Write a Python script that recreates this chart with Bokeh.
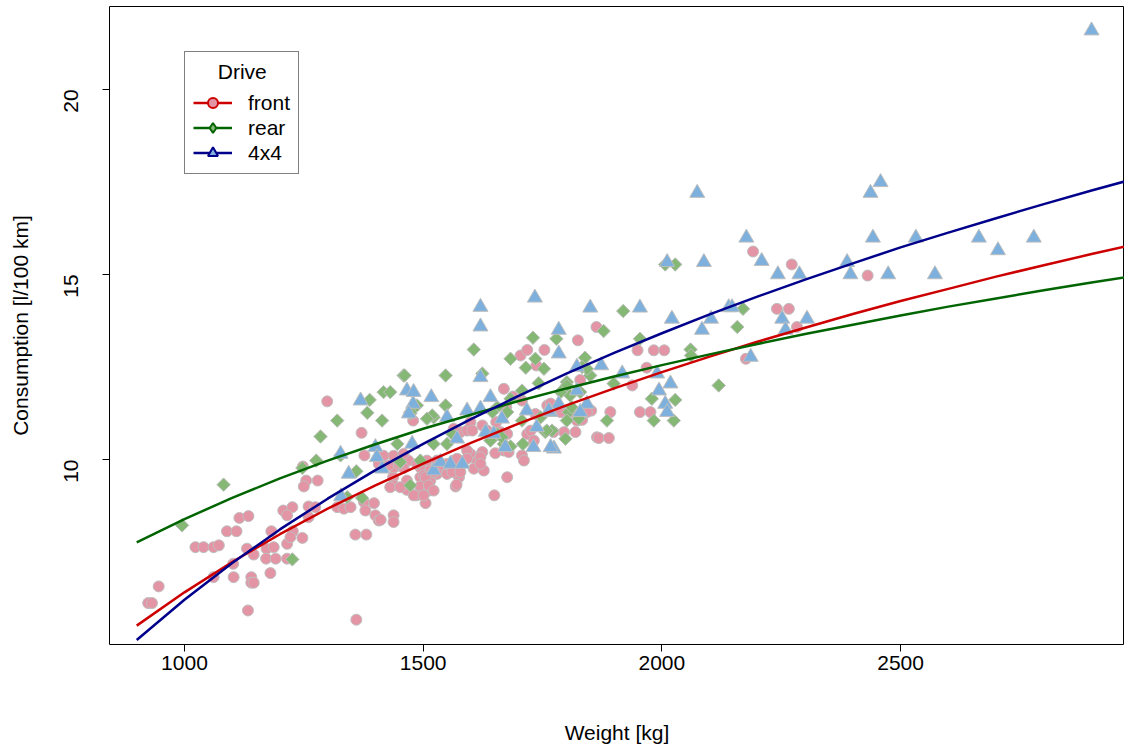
import math
import numpy as np
from bokeh.plotting import figure
from bokeh.models import Range1d, FixedTicker, Legend, LegendItem, Label
from bokeh.embed import file_html
from bokeh.resources import INLINE

# ---------------- data ----------------
front_weight = [924, 932, 946, 1133, 1360, 1023, 1040, 1061, 1072, 1061, 1103, 1102, 1140, 1140, 1145,
                1180, 1089, 1109, 1182, 1227, 1115, 1134, 1131, 1145, 1172, 1187, 1171, 1191, 1215, 1215,
                1222, 1247, 1207, 1226, 1215, 1260, 1260, 1274, 1248, 1255, 1279, 1250, 1299, 1371, 1377,
                1320, 1334, 1348, 1358, 1381, 1376, 1397, 1379, 1400, 1407, 1411, 1438, 1438, 1417, 1438,
                1456, 1421, 1442, 1469, 1494, 1515, 1437, 1466, 1494, 1515, 1469, 1494, 1515, 1486, 1505,
                1479, 1438, 1459, 1487, 1438, 1466, 1459, 1407, 1428, 1449, 1508, 1529, 1532, 1564, 1585,
                1599, 1620, 1613, 1606, 1627, 1501, 1529, 1550, 1575, 1431, 1452, 1512, 1568, 1480, 1501,
                1578, 1592, 1704, 1718, 1754, 1737, 1824, 1669, 1688, 1674, 1707, 1760, 1735, 1765, 1788,
                1822, 1833, 1852, 1795, 1819, 1864, 1773, 1599, 1624, 1634, 1653, 1603, 1564, 1662, 1676,
                1718, 1725, 1732, 1707, 1711, 1669, 1679, 1651, 1624, 1620, 1592, 1592, 1571, 1620, 1550,
                1561, 1578, 1522, 1505, 1512, 1522, 1676, 1570, 1649, 1863, 1949, 1983, 2005, 1829, 1968,
                1938, 1892, 1954, 1976, 1843, 1808, 1868, 1889, 1767, 2191, 2272, 2431, 2241, 2266, 2283,
                2176]
front_cons = [6.12, 6.12, 6.57, 5.92, 5.67, 7.63, 7.63, 7.63, 7.68, 6.82, 6.82, 7.18, 6.82, 6.67, 6.67,
              6.93, 8.06, 8.06, 8.06, 8.06, 8.42, 8.47, 7.59, 7.43, 7.59, 7.63, 7.32, 7.32, 7.32, 7.72,
              7.90, 7.88, 8.62, 8.71, 8.49, 8.73, 8.44, 8.71, 9.81, 9.43, 9.43, 9.27, 11.57, 10.72, 10.11,
              8.71, 8.67, 8.71, 7.97, 7.97, 8.85, 8.82, 8.62, 8.49, 8.35, 8.37, 8.49, 8.31, 10.10, 10.10,
              10.06, 9.81, 9.81, 9.97, 9.79, 9.72, 9.52, 9.43, 9.52, 9.43, 9.21, 9.27, 9.21, 9.03, 8.82,
              11.05, 9.79, 9.77, 9.88, 9.30, 9.18, 10.15, 9.88, 9.84, 9.88, 9.97, 9.97, 9.79, 9.97, 9.97,
              10.15, 10.11, 9.93, 9.75, 9.70, 9.57, 9.61, 9.61, 9.52, 9.25, 9.25, 9.16, 9.27, 9.03, 9.03,
              10.74, 10.78, 12.81, 12.96, 12.96, 12.54, 13.22, 11.91, 11.70, 11.41, 11.59, 11.46, 11.23, 11.34, 11.28,
              11.05, 11.07, 11.32, 10.74, 10.74, 10.60, 10.74, 11.01, 10.92, 10.78, 11.01, 10.78, 10.83, 10.74, 10.69,
              10.69, 10.78, 10.51, 10.11, 9.97, 10.24, 10.20, 10.17, 10.20, 10.06, 10.24, 10.02, 10.02, 9.88, 9.88,
              9.66, 9.66, 9.66, 9.52, 9.30, 9.16, 9.52, 9.32, 9.03, 13.58, 12.95, 12.95, 12.95, 12.15, 12.48,
              12.00, 11.28, 11.28, 11.28, 11.28, 11.28, 10.58, 10.58, 11.51, 15.62, 15.27, 14.97, 14.07, 14.07, 13.58,
              12.72]

rear_weight = [995, 1082, 1226, 1247, 1276, 1285, 1320, 1327, 1341, 1360, 1372, 1388, 1383, 1414, 1417,
               1431, 1446, 1459, 1473, 1487, 1522, 1547, 1494, 1522, 1473, 1452, 1606, 1624, 1547, 1461,
               1473, 1519, 1508, 1683, 1715, 1735, 1753, 1730, 1779, 1839, 1850, 1833, 1655, 1676, 1707,
               1742, 1801, 1808, 1756, 1798, 1709, 1669, 1550, 1561, 2028, 2007, 1919, 1878, 1954, 2170,
               2158, 2060, 2061, 2119, 1843, 1801, 1788, 1829, 1899, 1979, 2028, 1983, 2025, 1885, 1805,
               1801, 1683, 1645, 1746, 1707, 1770, 1655, 1683, 1641, 1826, 1665, 1811, 1759]
rear_cons = [8.22, 9.32, 7.30, 9.77, 9.97, 10.62, 11.05, 10.11, 8.98, 9.68, 8.96, 11.61, 11.26, 11.05, 11.82,
             11.82, 10.42, 12.27, 11.24, 11.46, 11.14, 11.46, 9.97, 10.42, 9.30, 9.93, 12.97, 12.32, 12.27, 12.27,
             11.28, 11.19, 11.10, 12.72, 12.48, 12.72, 12.45, 13.29, 13.26, 12.75, 12.27, 12.50, 11.41, 11.28, 11.86,
             12.06, 12.09, 11.73, 10.74, 10.56, 10.42, 10.42, 10.42, 10.69, 15.27, 15.27, 14.01, 13.47, 13.26, 14.07,
             13.58, 12.97, 12.81, 12.00, 12.45, 12.00, 11.82, 11.82, 12.05, 11.64, 11.61, 11.05, 11.05, 11.05, 11.28,
             11.05, 11.64, 11.28, 11.14, 11.05, 10.78, 10.69, 10.35, 10.51, 11.10, 10.60, 11.41, 10.78]

awd_weight = [2900, 2458, 2437, 2074, 2177, 2088, 2011, 2209, 2243, 2288, 2388, 2395, 2474, 2572, 2442,
              2532, 2664, 2779, 2704, 2140, 2147, 2021, 2103, 2084, 2252, 2304, 2259, 2186, 1990, 2018,
              1850, 1954, 1784, 1784, 1873, 1917, 1994, 2007, 2011, 1822, 1843, 1829, 1784, 1767, 1774,
              1620, 1620, 1734, 1620, 1369, 1466, 1479, 1517, 1550, 1592, 1620, 1641, 1665, 1717, 1738,
              1763, 1327, 1344, 1400, 1403, 1414, 1477, 1522, 1536, 1557, 1582, 1571, 1631, 1731, 1672,
              1648, 1767, 1328, 1480, 1470, 1822]
awd_cons = [21.59, 17.49, 17.20, 17.20, 15.99, 15.33, 15.33, 15.36, 15.00, 15.00, 15.33, 15.00, 15.00, 15.00, 15.99,
            15.99, 15.99, 15.99, 15.65, 14.11, 14.11, 13.80, 13.80, 13.50, 13.80, 13.80, 13.50, 12.77, 12.32, 12.05,
            14.10, 14.10, 13.50, 12.86, 12.54, 12.32, 11.86, 11.50, 11.28, 11.86, 11.50, 11.28, 11.50, 11.28, 10.29,
            14.12, 13.59, 14.37, 12.22, 11.59, 11.86, 11.50, 11.68, 11.14, 11.32, 11.37, 11.68, 11.10, 11.32, 10.87,
            11.32, 10.15, 9.61, 10.33, 10.06, 9.75, 10.42, 9.70, 9.93, 9.88, 9.88, 10.56, 10.74, 10.33, 10.33,
            10.69, 10.33, 9.00, 11.82, 11.24, 12.50]

# fitted curves, read along the weight axis
curve_weight = [900, 1000, 1100, 1200, 1300, 1400, 1500, 1600, 1700, 1800, 1900,
                2000, 2100, 2200, 2300, 2400, 2500, 2600, 2700, 2800, 2900, 3000]
fit_front = [5.51, 6.41, 7.23, 7.98, 8.67, 9.30, 9.89, 10.45, 10.97, 11.46, 11.92,
             12.36, 12.78, 13.18, 13.56, 13.93, 14.28, 14.61, 14.94, 15.25, 15.55, 15.84]
fit_rear = [7.76, 8.39, 8.96, 9.49, 9.97, 10.41, 10.83, 11.21, 11.58, 11.92, 12.24,
            12.55, 12.84, 13.12, 13.39, 13.64, 13.89, 14.13, 14.35, 14.57, 14.78, 14.98]
fit_awd = [5.12, 6.21, 7.20, 8.11, 8.94, 9.71, 10.42, 11.09, 11.72, 12.32, 12.88,
           13.41, 13.92, 14.40, 14.86, 15.30, 15.73, 16.13, 16.52, 16.90, 17.27, 17.62]

drive_labels = ["front", "rear", "4x4"]
x_ticks = [1000, 1500, 2000, 2500]
y_ticks = [10, 15, 20]

# ---------------- styling ----------------
FONT = "Liberation Sans"
FS = "21px"
fill_cols = ["#E495A5", "#86B875", "#7DB0DD"]
line_cols = ["#CD0000", "#006400", "#00008B"]
edge = "#BEBEBE"

p = figure(width=1124, height=747,
           x_range=Range1d(843, 2969), y_range=Range1d(5.0, 22.24),
           output_backend="svg", toolbar_location=None,
           min_border_left=109, min_border_right=0, min_border_top=6, min_border_bottom=103)
p.background_fill_color = "white"
p.border_fill_color = "white"
p.outline_line_color = "black"
p.outline_line_width = 1
p.xgrid.grid_line_color = None
p.ygrid.grid_line_color = None

for ax in (p.xaxis[0], p.yaxis[0]):
    ax.axis_line_color = None
    ax.major_tick_in = 0
    ax.major_tick_out = 7
    ax.major_tick_line_color = "black"
    ax.minor_tick_line_color = None
    ax.major_label_text_font = FONT
    ax.major_label_text_font_size = FS
    ax.major_label_text_color = "black"
    ax.axis_label_text_font = FONT
    ax.axis_label_text_font_size = FS
    ax.axis_label_text_font_style = "normal"
    ax.axis_label_text_color = "black"

p.xaxis.ticker = FixedTicker(ticks=x_ticks)
p.yaxis.ticker = FixedTicker(ticks=y_ticks)
p.xaxis.axis_label = "Weight [kg]"
p.yaxis.axis_label = "Consumption [l/100 km]"
p.xaxis.major_label_standoff = 4
p.xaxis.axis_label_standoff = 48
p.yaxis.major_label_orientation = math.pi / 2
p.yaxis.major_label_standoff = 31
p.yaxis.axis_label_standoff = 23

# points
p.scatter(front_weight, front_cons, marker="circle", size=11,
          fill_color=fill_cols[0], line_color=edge, line_width=1)
p.scatter(rear_weight, rear_cons, marker="square", angle=math.pi / 4, size=9.5,
          fill_color=fill_cols[1], line_color=edge, line_width=1)
p.scatter(awd_weight, awd_cons, marker="triangle", size=15,
          fill_color=fill_cols[2], line_color=edge, line_width=1)

# fitted lines
l_front = p.line(curve_weight, fit_front, line_color=line_cols[0], line_width=2.5)
l_rear = p.line(curve_weight, fit_rear, line_color=line_cols[1], line_width=2.5)
l_awd = p.line(curve_weight, fit_awd, line_color=line_cols[2], line_width=2.5)

# legend-only markers
m_front = p.scatter([np.nan], [np.nan], marker="circle", size=11,
                    fill_color=fill_cols[0], line_color=line_cols[0], line_width=2)
m_rear = p.scatter([np.nan], [np.nan], marker="diamond", size=19,
                   fill_color=fill_cols[1], line_color=line_cols[1], line_width=2)
m_awd = p.scatter([np.nan], [np.nan], marker="triangle", size=15,
                  fill_color=fill_cols[2], line_color=line_cols[2], line_width=2)

title_lbl = Label(x=1121, y=20.49, text="Drive", text_align="center", text_baseline="middle",
                  text_font=FONT, text_font_size=FS, text_color="black")
p.add_layout(title_lbl)

legend = Legend(items=[
    LegendItem(label=drive_labels[0], renderers=[l_front, m_front]),
    LegendItem(label=drive_labels[1], renderers=[l_rear, m_rear]),
    LegendItem(label=drive_labels[2], renderers=[l_awd, m_awd]),
], location=(75, 470))
legend.title = "Drive"
legend.title_text_alpha = 0
legend.title_text_font = FONT
legend.title_text_font_size = FS
legend.title_standoff = 6
legend.label_text_font = FONT
legend.label_text_font_size = FS
legend.label_text_color = "black"
legend.glyph_width = 39
legend.glyph_height = 25
legend.label_height = 25
legend.spacing = 0
legend.label_standoff = 16
legend.padding = 8
legend.margin = 0
legend.border_line_color = "black"
legend.border_line_width = 1
legend.background_fill_alpha = 0
p.add_layout(legend)

open("out.html", "w").write(file_html(p, INLINE))
